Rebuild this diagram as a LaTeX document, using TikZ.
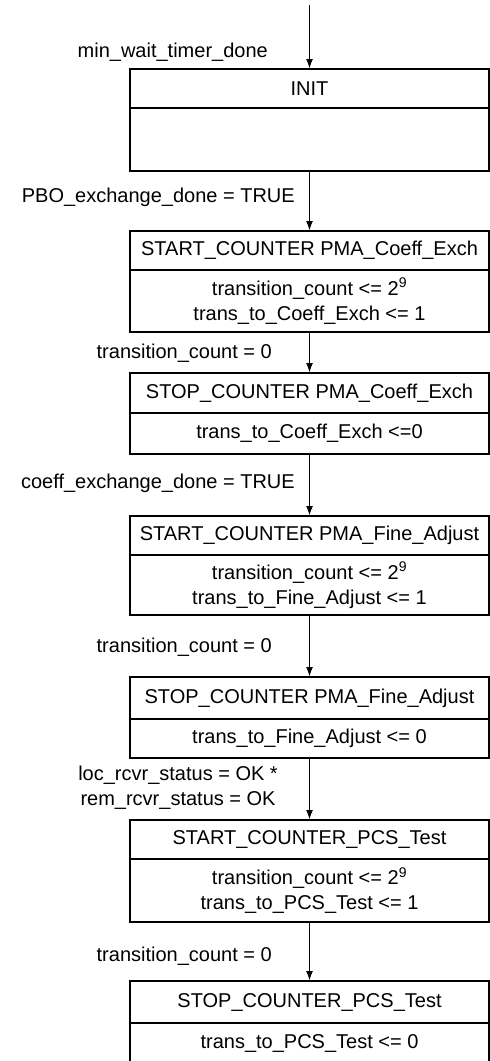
\documentclass[tikz,border=0pt]{standalone}
\usepackage{fontspec}
\setmainfont{Liberation Sans}
\usetikzlibrary{positioning,arrows.meta}

\tikzset{
  statehead/.style={draw, line width=1.8pt, minimum width=359pt, inner sep=0pt,
    outer sep=0pt, align=center, font=\fontsize{20}{25}\selectfont},
  statebody/.style={statehead},
  trans/.style={line width=1.8pt, -{Latex[length=10pt,width=7pt]}},
  cond/.style={anchor=east, align=center, inner sep=0pt,
    font=\fontsize{20}{25}\selectfont}
}

\begin{document}
\begin{tikzpicture}[x=1pt,y=-1pt]
    \useasboundingbox (0,0) rectangle (490,1061);
    \clip (0,0) rectangle (490,1061);

    % States: header and body
    \node[statehead, minimum height=39pt, anchor=north] (init) at (309.5,69) {INIT};
    \node[statebody, minimum height=63pt, below=0pt of init] (init-body) {};

    \node[statehead, minimum height=39pt, anchor=north] (startce) at (309.5,231) {START\_COUNTER PMA\_Coeff\_Exch};
    \node[statebody, minimum height=62pt, below=0pt of startce] (startce-body)
        {transition\_count <= 2\textsuperscript{9}\\trans\_to\_Coeff\_Exch <= 1};

    \node[statehead, minimum height=40pt, anchor=north] (stopce) at (309.5,373) {STOP\_COUNTER PMA\_Coeff\_Exch};
    \node[statebody, minimum height=41pt, below=0pt of stopce] (stopce-body)
        {trans\_to\_Coeff\_Exch <=0};

    \node[statehead, minimum height=39pt, anchor=north] (startfa) at (309.5,516) {START\_COUNTER PMA\_Fine\_Adjust};
    \node[statebody, minimum height=60pt, below=0pt of startfa] (startfa-body)
        {transition\_count <= 2\textsuperscript{9}\\trans\_to\_Fine\_Adjust <= 1};

    \node[statehead, minimum height=42pt, anchor=north] (stopfa) at (309.5,677) {STOP\_COUNTER PMA\_Fine\_Adjust};
    \node[statebody, minimum height=39pt, below=0pt of stopfa] (stopfa-body)
        {trans\_to\_Fine\_Adjust <= 0};

    \node[statehead, minimum height=39pt, anchor=north] (startpcs) at (309.5,820) {START\_COUNTER\_PCS\_Test};
    \node[statebody, minimum height=63pt, below=0pt of startpcs] (startpcs-body)
        {transition\_count <= 2\textsuperscript{9}\\trans\_to\_PCS\_Test <= 1};

    \node[statehead, minimum height=42pt, anchor=north] (stoppcs) at (309.5,981) {STOP\_COUNTER\_PCS\_Test};
    \node[statebody, minimum height=40pt, below=0pt of stoppcs] (stoppcs-body)
        {trans\_to\_PCS\_Test <= 0};
    \draw[line width=1.8pt] (stoppcs-body.north west) -- ++(0,60);

    % Transitions
    \coordinate (entry) at (309.5,5);
    \draw[trans] (entry) -- (init.north);
    \draw[trans] (init-body.south) -- (startce.north);
    \draw[trans] (startce-body.south) -- (stopce.north);
    \draw[trans] (stopce-body.south) -- (startfa.north);
    \draw[trans] (startfa-body.south) -- (stopfa.north);
    \draw[trans] (stopfa-body.south) -- (startpcs.north);
    \draw[trans] (startpcs-body.south) -- (stoppcs.north);

    % Conditions
    \node[cond] (c1) at (268,52) {min\_wait\_timer\_done};
    \node[cond] (c2) at (295,197) {PBO\_exchange\_done = TRUE};
    \node[cond] (c3) at (272,353) {transition\_count = 0};
    \node[cond] (c4) at (295,483) {coeff\_exchange\_done = TRUE};
    \node[cond] (c5) at (272,647) {transition\_count = 0};
    \node[cond] (c6) at (278,788) {loc\_rcvr\_status = OK *\\rem\_rcvr\_status = OK};
    \node[cond] (c7) at (272,956) {transition\_count = 0};
\end{tikzpicture}
\end{document}
